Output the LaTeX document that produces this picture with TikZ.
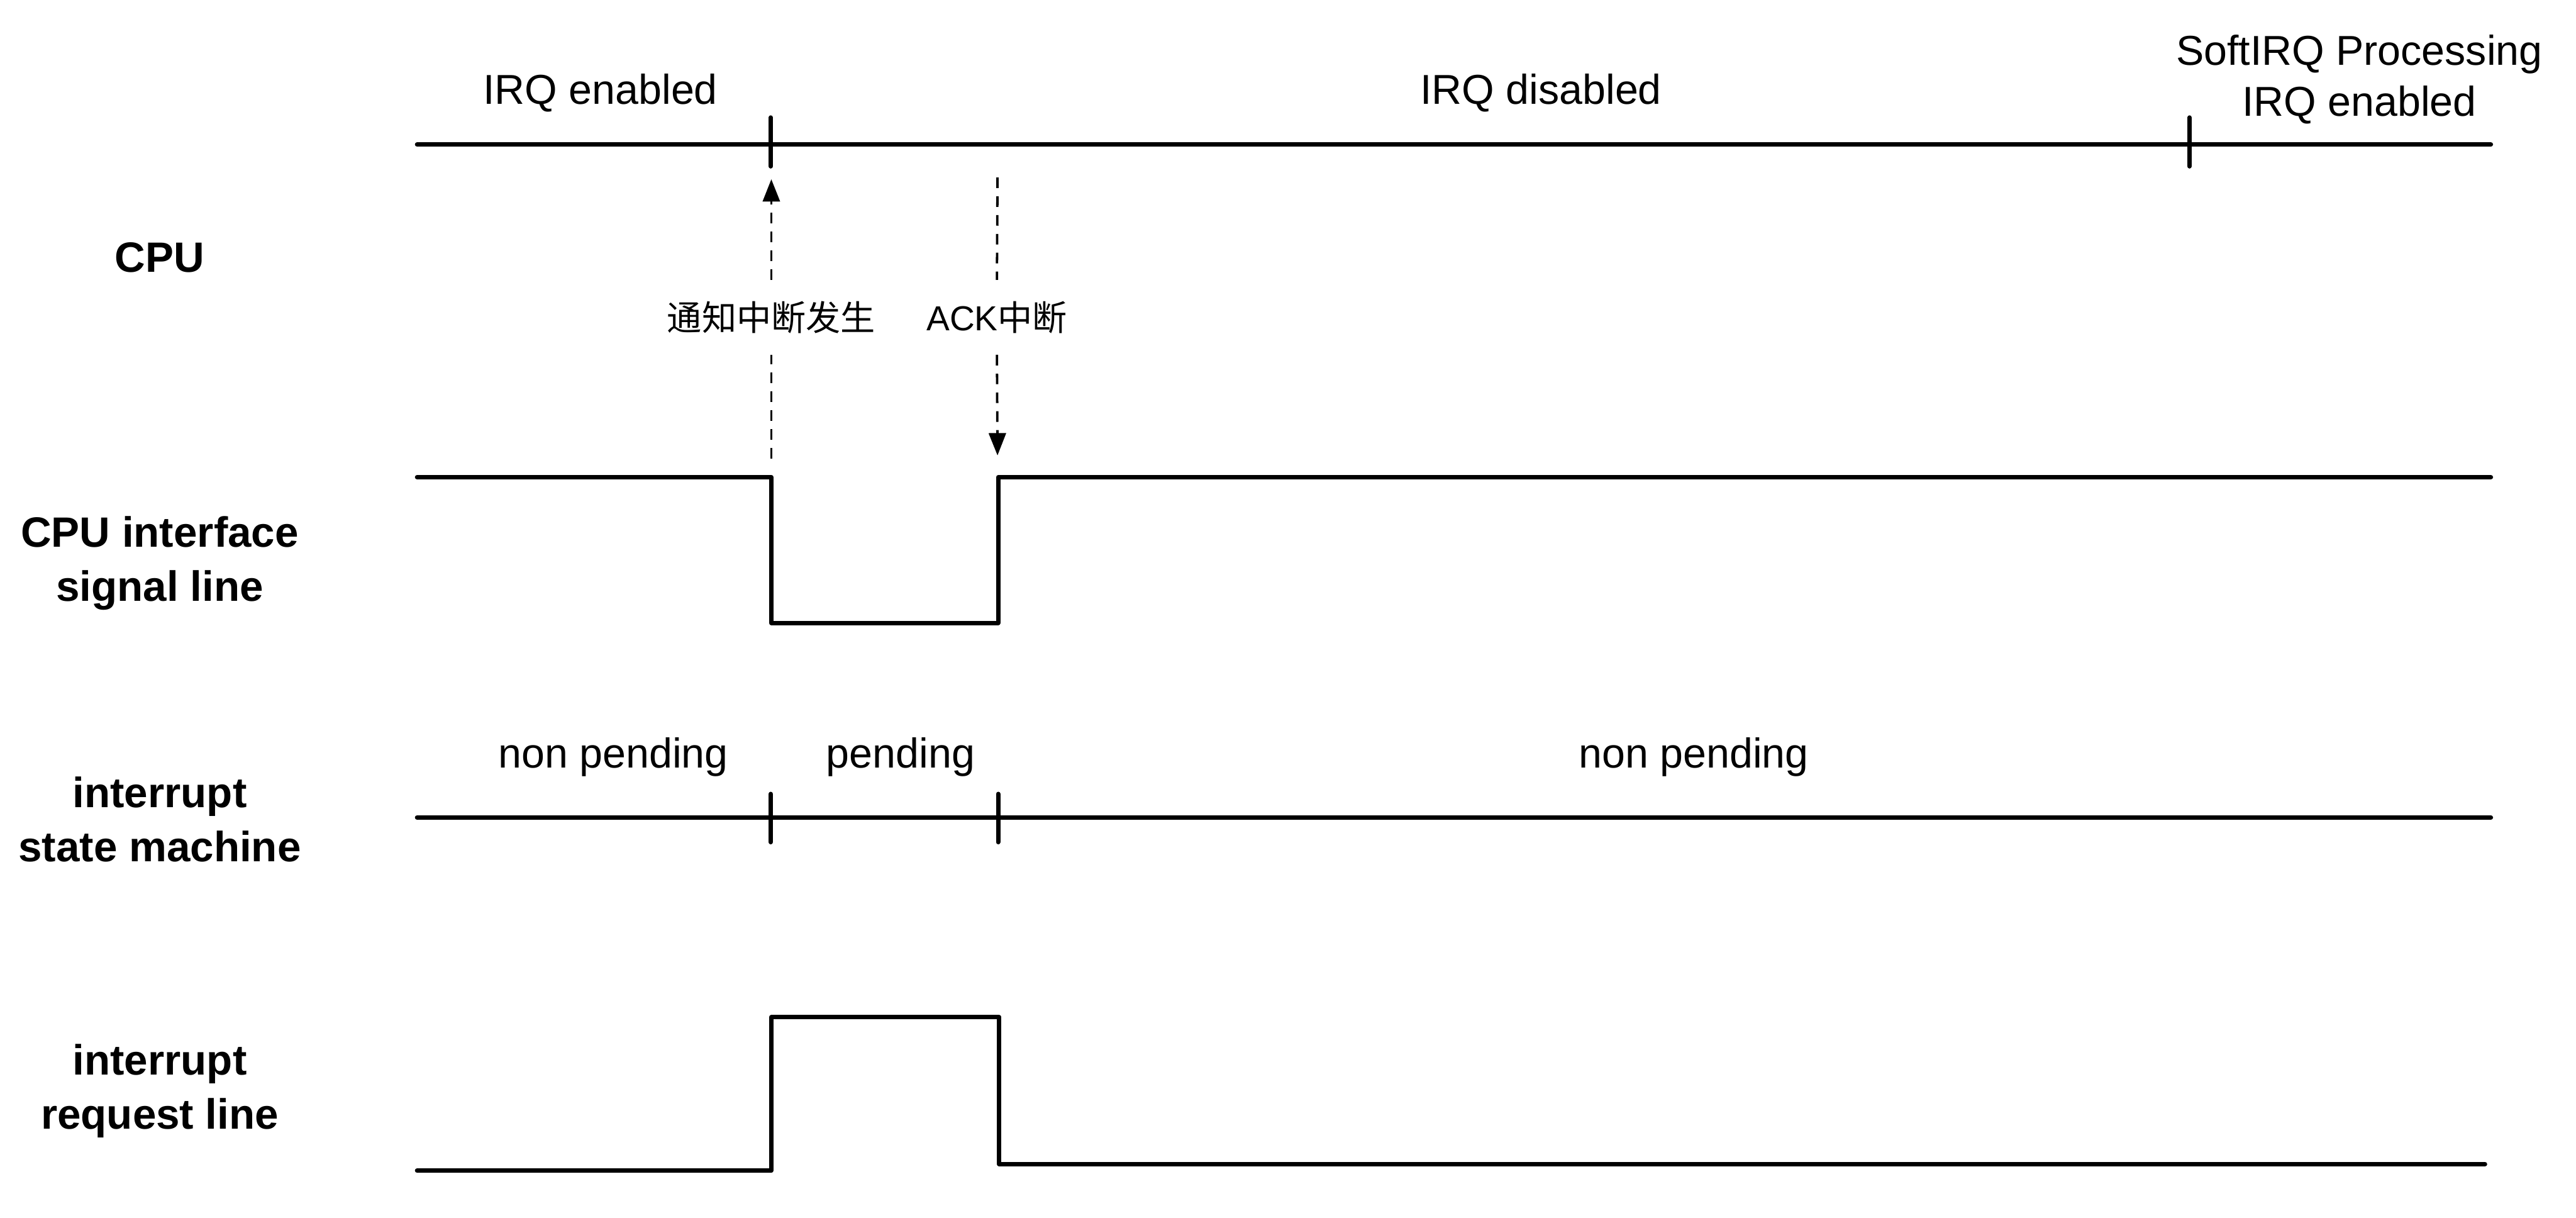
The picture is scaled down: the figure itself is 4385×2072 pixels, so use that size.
\documentclass[tikz,border=0pt]{standalone}
\usepackage{fontspec}
\setmainfont{Liberation Sans}
\newfontfamily\cjk{Noto Sans CJK SC}
\usetikzlibrary{arrows.meta}
\begin{document}
\begin{tikzpicture}[x=0.01cm,y=-0.01cm,
  wave/.style={line width=2.15pt, line cap=round, line join=round},
  tickmark/.style={line width=2.15pt, line cap=round},
  dashln/.style={line width=1.15pt, dash pattern=on 0.18cm off 0.14cm},
  tipA/.style={-{Triangle[length=0.38cm,width=0.29cm]}},
  lbl/.style={font=\fontsize{20.2pt}{24.75pt}\selectfont, inner sep=0pt, align=center},
  rowlbl/.style={font=\fontsize{20.5pt}{26.2pt}\selectfont\bfseries, inner sep=0pt, align=center},
  cjklbl/.style={font=\cjk\fontsize{16.8pt}{20pt}\selectfont, inner sep=0pt, minimum height=1.26cm}]
\useasboundingbox (0,0) rectangle (4385,2072);

% row labels
\node[rowlbl, anchor=base] (cpu) at (272,463) {CPU};
\node[rowlbl] (cpuif) at (272,958) {CPU interface\\signal line};
\node[rowlbl] (ism) at (272,1394) {interrupt\\state machine};
\node[rowlbl] (irl) at (272,1856) {interrupt\\request line};

% CPU state line
\draw[wave] (710,246) -- (4240,246);
\draw[tickmark] (1312,200) -- (1312,283);
\draw[tickmark] (3727,200) -- (3727,283);
\node[lbl, anchor=base] (en1) at (1022,177) {IRQ enabled};
\node[lbl, anchor=base] (dis) at (2623,177) {IRQ disabled};
\node[lbl] (soft) at (4016,135) {SoftIRQ Processing\\IRQ enabled};

% CPU interface signal line
\draw[wave] (710,812) -- (1313,812) -- (1313,1060) -- (1699,1060) -- (1699,812) -- (4240,812);

% interrupt state machine
\draw[wave] (710,1391) -- (4240,1391);
\draw[tickmark] (1312,1351) -- (1312,1433);
\draw[tickmark] (1699,1351) -- (1699,1433);
\node[lbl, anchor=base] (np1) at (1044,1307) {non pending};
\node[lbl, anchor=base] (pend) at (1533,1307) {pending};
\node[lbl, anchor=base] (np2) at (2883,1307) {non pending};

% interrupt request line
\draw[wave] (710,1992) -- (1313,1992) -- (1313,1731) -- (1701,1731) -- (1701,1981) -- (4230,1981);

% notifications
\coordinate (u1b) at (1313,780);
\coordinate (u1t) at (1313,305);
\coordinate (d1t) at (1698,302);
\coordinate (d1b) at (1698,775);
\node[cjklbl] (notify) at (1313,540) {通知中断发生};
\node[cjklbl] (ack) at (1697,540) {{\fontspec{Liberation Sans}\fontsize{16.8pt}{20pt}\selectfont ACK}中断};
\draw[dashln] (u1b) -- (notify.south);
\draw[dashln, tipA] (notify.north) -- (u1t);
\draw[dashln] (d1t) -- (ack.north);
\draw[dashln, tipA] (ack.south) -- (d1b);
\end{tikzpicture}
\end{document}
